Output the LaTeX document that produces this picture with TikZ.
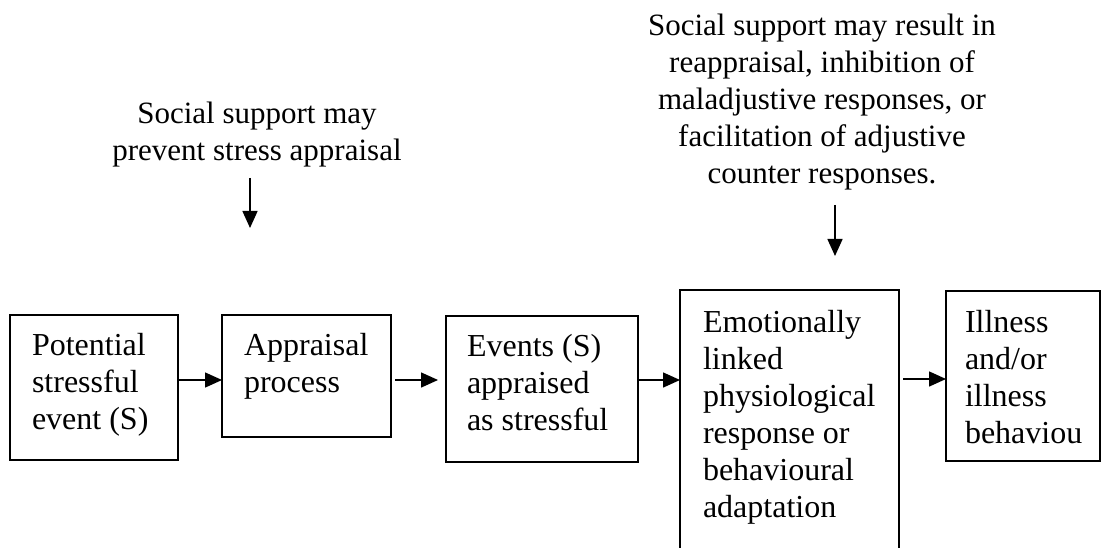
\documentclass[tikz,border=0pt]{standalone}
\usepackage{fontspec}
\setmainfont{Liberation Serif}
\usetikzlibrary{arrows.meta}
\begin{document}
\begin{tikzpicture}[x=1pt,y=-1pt,
  boxnode/.style={draw, line width=1.5pt, inner sep=0pt, outer sep=0pt, anchor=north west},
  txt/.style={inner sep=0pt, outer sep=0pt, font=\fontsize{32}{37}\selectfont},
  boxtxt/.style={txt, align=left, anchor=base west},
  note/.style={txt, font=\fontsize{31}{37}\selectfont, align=center, anchor=base},
  conn/.style={line width=1.5pt, -{Triangle[length=17pt,width=15pt]}}]
\useasboundingbox (0,0) rectangle (1103,548);
\clip (0,0) rectangle (1103,548);
% boxes
\node[boxnode, minimum width=168pt, minimum height=145pt] (b1) at (10,315) {};
\node[boxnode, minimum width=169pt, minimum height=122pt] (b2) at (222,315) {};
\node[boxnode, minimum width=192pt, minimum height=146pt] (b3) at (446,316) {};
\node[boxnode, minimum width=219pt, minimum height=280pt] (b4) at (680,290) {};
\node[boxnode, minimum width=154pt, minimum height=170pt] (b5) at (946,291) {};
% box texts (anchor = baseline of last line)
\node[boxtxt] (t1) at (32,429) {Potential\\stressful\\event (S)};
\node[boxtxt] (t2) at (244,392) {Appraisal\\process};
\node[boxtxt] (t3) at (467,430) {Events (S)\\appraised\\as stressful};
\node[boxtxt] (t4) at (703,517) {Emotionally\\linked\\physiological\\response or\\behavioural\\adaptation};
\node[boxtxt] (t5) at (965,443) {Illness\\and/or\\illness\\behaviou};
% notes
\node[note] (n1) at (257,161) {Social support may\\prevent stress appraisal};
\node[note] (n2) at (822,184) {Social support may result in\\reappraisal, inhibition of\\maladjustive responses, or\\facilitation of adjustive\\counter responses.};
% connector heights
\coordinate (row) at (0,380);
\coordinate (row4) at (0,379);
\coordinate (a1s) at (250,178);
\coordinate (a1e) at (250,228);
\coordinate (a2s) at (835,205);
\coordinate (a2e) at (835,256);
% connectors
\draw[conn] (b1.east |- row) -- (b2.west |- row);
\draw[conn, shorten <=4pt, shorten >=8pt] (b2.east |- row) -- (b3.west |- row);
\draw[conn] (b3.east |- row) -- (b4.west |- row);
\draw[conn, shorten <=4pt] (b4.east |- row4) -- (b5.west |- row4);
\draw[conn] (a1s) -- (a1e);
\draw[conn] (a2s) -- (a2e);
\end{tikzpicture}
\end{document}
